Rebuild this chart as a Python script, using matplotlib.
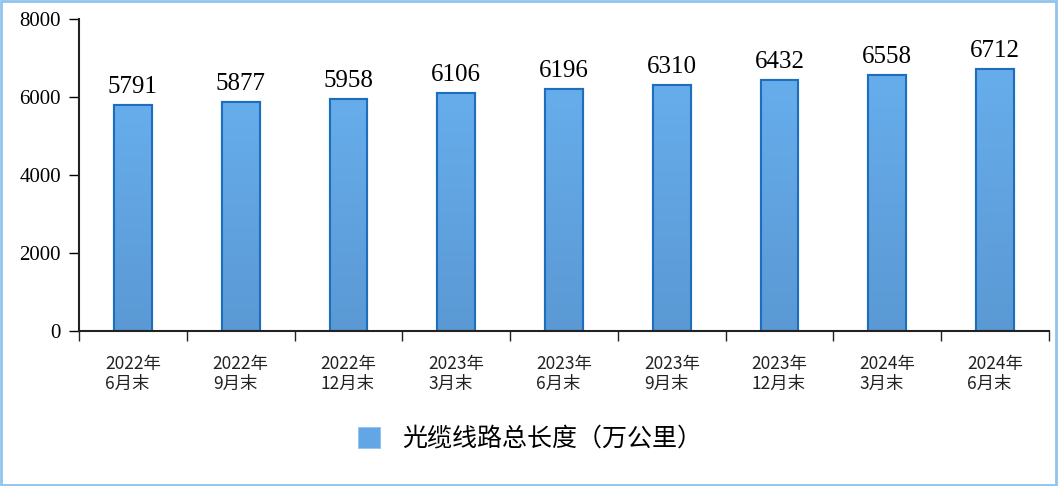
import matplotlib
matplotlib.use("Agg")
import matplotlib.pyplot as plt
import numpy as np
from matplotlib.patches import Rectangle
from matplotlib.colors import LinearSegmentedColormap

categories = ["2022年\n6月末", "2022年\n9月末", "2022年\n12月末", "2023年\n3月末", "2023年\n6月末",
              "2023年\n9月末", "2023年\n12月末", "2024年\n3月末", "2024年\n6月末"]
values = [5791, 5877, 5958, 6106, 6196, 6310, 6432, 6558, 6712]
series_name = "光缆线路总长度（万公里）"
yticks = [0, 2000, 4000, 6000, 8000]

serif = ["Liberation Serif", "Noto Sans CJK SC"]
cjk = ["Noto Sans CJK SC", "DejaVu Sans"]

fig = plt.figure(figsize=(10.58, 4.86), dpi=100)
ax = fig.add_axes([0.0747, 0.319, 0.9168, 0.642])

x = list(range(len(values)))
bars = ax.bar(x, values, width=0.35, color="#5fa3e2", edgecolor="#1d6fbe", linewidth=1.5,
              label=series_name, zorder=3)

grad = LinearSegmentedColormap.from_list("g", ["#5a99d4", "#67adec"])
gimg = np.linspace(0, 1, 256).reshape(-1, 1)
for b in bars:
    bx, by = b.get_x(), b.get_y()
    bw, bh = b.get_width(), b.get_height()
    im = ax.imshow(gimg, cmap=grad, origin="lower", aspect="auto",
                   extent=[bx, bx + bw, by, by + bh], zorder=3.5)
    im.set_clip_path(b)
    edge = Rectangle((bx, by), bw, bh, fill=False, edgecolor="#1d6fbe", linewidth=1.5, zorder=4)
    ax.add_patch(edge)

for xi, v in zip(x, values):
    ax.text(xi, v + 180, str(v), ha="center", va="bottom", fontsize=18, family=serif, color="black")

ax.set_xlim(-0.5, len(values) - 0.5)
ax.set_ylim(0, 8000)
ax.set_yticks(yticks)
ax.set_yticklabels([str(t) for t in yticks], family=serif, fontsize=15)
ax.set_xticks(x)
ax.set_xticklabels(categories, family=cjk, fontsize=12.5, color="#222222", linespacing=1.2,
                   multialignment="left")
ax.set_xticks([i - 0.5 for i in range(len(values) + 1)], minor=True)
ax.tick_params(axis="x", which="major", length=0, pad=17)
ax.tick_params(axis="x", which="minor", length=7, width=1, direction="out", color="#222222")
ax.tick_params(axis="y", length=7, width=1, direction="out", pad=6)
for s in ["top", "right"]:
    ax.spines[s].set_visible(False)
for s in ["left", "bottom"]:
    ax.spines[s].set_linewidth(1.5)
    ax.spines[s].set_color("#222222")
    ax.spines[s].set_zorder(5)

leg = fig.legend(handles=[bars], labels=[series_name], loc="center", bbox_to_anchor=(0.501, 0.097),
                 frameon=False, prop={"family": cjk, "size": 18}, handlelength=0.9, handleheight=0.9,
                 handletextpad=0.9)
for h in leg.legend_handles:
    h.set_facecolor("#62a6e6")
    h.set_edgecolor("#8cc0ee")
    h.set_linewidth(0.5)

fig.patches.append(Rectangle((0.001, 0.002), 0.997, 0.995, transform=fig.transFigure,
                             fill=False, edgecolor="#8fc4ec", linewidth=2))

fig.savefig("out.png", dpi=100)
